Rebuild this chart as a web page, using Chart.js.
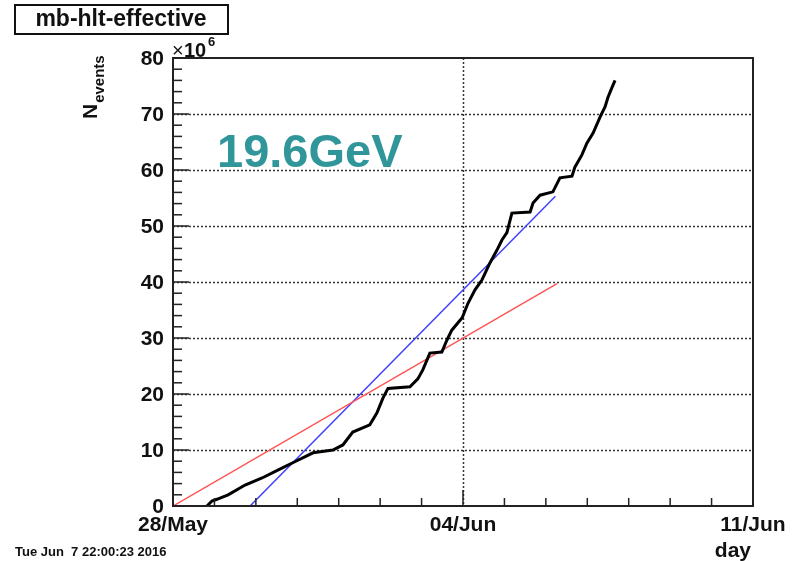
<!DOCTYPE html>
<html>
<head>
<meta charset="utf-8">
<script src="https://cdn.jsdelivr.net/npm/chart.js@4/dist/chart.umd.min.js"></script>
<style>
  html, body { margin: 0; padding: 0; background: #fff; }
  canvas { display: block; }
</style>
</head>
<body>
<canvas id="chart" width="792" height="561"></canvas>
<script>
// days counted from 28/May 00:00
var dayTickValues = [0, 7, 14];
var dayTickLabels = ['28/May', '04/Jun', '11/Jun'];
var eventTickValues = [0, 10, 20, 30, 40, 50, 60, 70, 80];

// accumulated events (x10^6)
var curveDays = [0.82, 0.94, 1.06, 1.33, 1.74, 2.15, 2.53, 2.94, 3.38, 3.86, 4.10, 4.34, 4.75, 4.92,
  5.07, 5.19, 5.72, 5.91, 6.03, 6.20, 6.49, 6.61, 6.73, 6.98, 7.12, 7.29, 7.46, 7.65, 7.82, 7.94,
  8.06, 8.18, 8.62, 8.69, 8.86, 9.17, 9.34, 9.63, 9.70, 9.87, 9.99, 10.14, 10.31, 10.43, 10.50,
  10.60, 10.67];
var curveEvents = [0, 0.9, 1.2, 2.0, 3.75, 5.0, 6.4, 7.9, 9.5, 10.0, 10.9, 13.2, 14.5, 16.6,
  19.3, 21.0, 21.3, 22.7, 24.3, 27.3, 27.5, 29.6, 31.4, 33.6, 36.2, 38.6, 40.4, 43.4, 45.7, 47.5,
  48.8, 52.3, 52.5, 54.1, 55.5, 56.1, 58.6, 58.9, 60.5, 62.7, 64.8, 66.6, 69.5, 71.3, 73.0,
  74.8, 76.0];

// straight reference lines
var redDays = [0, 9.27];
var redEvents = [0, 39.7];
var blueDays = [1.86, 9.23];
var blueEvents = [0, 55.3];

function toPoints(xs, ys) {
  return xs.map(function (x, i) { return { x: x, y: ys[i] }; });
}

var BOLD = 'bold 21px "Liberation Sans", Arial, sans-serif';

// ROOT-like frame, inward ticks, dotted grid and labels
var rootStyle = {
  id: 'rootStyle',
  beforeDatasetsDraw: function (chart) {
    var ctx = chart.ctx, a = chart.chartArea;
    var xs = chart.scales.x, ys = chart.scales.y;
    ctx.save();
    ctx.strokeStyle = '#333';
    ctx.lineWidth = 1.5;
    ctx.setLineDash([2, 2]);
    eventTickValues.forEach(function (v) {
      if (v === 0 || v === 80) return;
      var py = Math.round(ys.getPixelForValue(v)) + 0.5;
      ctx.beginPath();
      ctx.moveTo(a.left, py);
      ctx.lineTo(a.right, py);
      ctx.stroke();
    });
    dayTickValues.forEach(function (v) {
      if (v === 0 || v === 14) return;
      var px = Math.round(xs.getPixelForValue(v)) + 0.5;
      ctx.beginPath();
      ctx.moveTo(px, a.top);
      ctx.lineTo(px, a.bottom);
      ctx.stroke();
    });
    ctx.restore();
  },
  afterDatasetsDraw: function (chart) {
    var ctx = chart.ctx, a = chart.chartArea;
    var xs = chart.scales.x, ys = chart.scales.y;
    ctx.save();
    // frame
    ctx.strokeStyle = '#222';
    ctx.lineWidth = 2;
    ctx.strokeRect(a.left, a.top, a.right - a.left, a.bottom - a.top);

    // y ticks, minor every 2
    ctx.lineWidth = 1.5;
    for (var v = 0; v <= 80; v += 2) {
      var py = ys.getPixelForValue(v);
      var len = (v % 10 === 0) ? 16 : 9;
      ctx.beginPath();
      ctx.moveTo(a.left, py);
      ctx.lineTo(a.left + len, py);
      ctx.stroke();
    }
    // x ticks, minor every day
    for (var d = 0; d <= 14; d += 1) {
      var px = xs.getPixelForValue(d);
      var l = (d % 7 === 0) ? 16 : 8;
      ctx.beginPath();
      ctx.moveTo(px, a.bottom);
      ctx.lineTo(px, a.bottom - l);
      ctx.stroke();
    }

    // tick labels
    ctx.fillStyle = '#111';
    ctx.font = BOLD;
    ctx.textAlign = 'right';
    ctx.textBaseline = 'middle';
    eventTickValues.forEach(function (v) {
      ctx.fillText(String(v), a.left - 9, ys.getPixelForValue(v) + 1);
    });
    ctx.textAlign = 'center';
    ctx.textBaseline = 'alphabetic';
    dayTickValues.forEach(function (v, i) {
      ctx.fillText(dayTickLabels[i], xs.getPixelForValue(v), a.bottom + 25);
    });
    ctx.restore();
  },
  afterDraw: function (chart) {
    var ctx = chart.ctx, a = chart.chartArea;
    ctx.save();
    ctx.fillStyle = '#111';

    // title box
    ctx.strokeStyle = '#111';
    ctx.lineWidth = 2;
    ctx.strokeRect(15, 5, 213, 29);
    ctx.font = 'bold 23px "Liberation Sans", Arial, sans-serif';
    ctx.textAlign = 'center';
    ctx.textBaseline = 'middle';
    ctx.fillText('mb-hlt-effective', 121, 20);

    // x10^6 multiplier
    ctx.textAlign = 'left';
    ctx.textBaseline = 'alphabetic';
    ctx.font = '20px "Liberation Sans", Arial, sans-serif';
    ctx.fillText('\u00d7', a.left - 1, 57);
    ctx.font = 'bold 20px "Liberation Sans", Arial, sans-serif';
    ctx.fillText('10', a.left + 11, 57);
    ctx.font = 'bold 13px "Liberation Sans", Arial, sans-serif';
    ctx.fillText('6', a.left + 35, 46);

    // y axis title
    ctx.save();
    ctx.translate(97, 119);
    ctx.rotate(-Math.PI / 2);
    ctx.font = 'bold 21px "Liberation Sans", Arial, sans-serif';
    ctx.fillText('N', 0, 0);
    var wN = ctx.measureText('N').width;
    ctx.font = 'bold 15px "Liberation Sans", Arial, sans-serif';
    ctx.fillText('events', wN + 1, 7);
    ctx.restore();

    // x axis title
    ctx.font = BOLD;
    ctx.textAlign = 'right';
    ctx.fillText('day', a.right - 2, 557);

    // date stamp
    ctx.textAlign = 'left';
    ctx.font = 'bold 13px "Liberation Sans", Arial, sans-serif';
    ctx.fillText('Tue Jun  7 22:00:23 2016', 15, 556);

    // energy label
    ctx.fillStyle = '#31969a';
    ctx.font = 'bold 47px "Liberation Sans", Arial, sans-serif';
    ctx.fillText('19.6GeV', 217, 167);
    ctx.restore();
  }
};

var ctx = document.getElementById('chart').getContext('2d');
var myChart = new Chart(ctx, {
  type: 'line',
  data: {
    datasets: [{
      label: 'events',
      data: toPoints(curveDays, curveEvents),
      borderColor: '#000',
      borderWidth: 3,
      pointRadius: 0,
      tension: 0
    }, {
      label: 'red fit',
      data: toPoints(redDays, redEvents),
      borderColor: '#ff5555',
      borderWidth: 1.5,
      pointRadius: 0
    }, {
      label: 'blue fit',
      data: toPoints(blueDays, blueEvents),
      borderColor: '#4040ff',
      borderWidth: 1.5,
      pointRadius: 0
    }]
  },
  options: {
    responsive: false,
    animation: false,
    layout: {
      padding: { left: 173, right: 39, top: 58, bottom: 55 }
    },
    scales: {
      x: { type: 'linear', min: 0, max: 14, display: false },
      y: { type: 'linear', min: 0, max: 80, display: false }
    },
    plugins: {
      legend: { display: false },
      tooltip: { enabled: false }
    }
  },
  plugins: [rootStyle]
});
</script>
</body>
</html>
